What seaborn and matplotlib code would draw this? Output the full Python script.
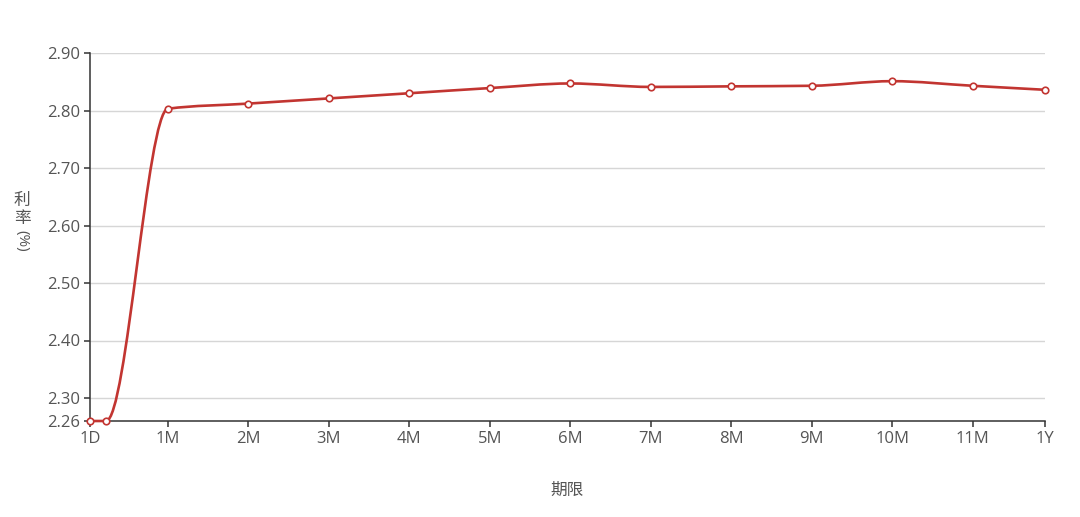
import numpy as np
import matplotlib
matplotlib.use('Agg')
import matplotlib.pyplot as plt
from matplotlib.path import Path
from matplotlib.patches import PathPatch
import pandas as pd
import seaborn as sns

# Data
tenors = ['1D', '1W', '1M', '2M', '3M', '4M', '5M', '6M', '7M', '8M', '9M', '10M', '11M', '1Y']
tenor_days = [1, 7, 30, 60, 90, 120, 150, 180, 210, 240, 270, 300, 330, 357]
rates = [2.26, 2.26, 2.803, 2.812, 2.821, 2.830, 2.839, 2.847, 2.841, 2.842, 2.843, 2.851, 2.843, 2.836]
y_ticks = [2.26, 2.30, 2.40, 2.50, 2.60, 2.70, 2.80, 2.90]
x_tick_labels = [t for t in tenors if t != '1W']
x_ticks = [d for t, d in zip(tenors, tenor_days) if t != '1W']

df = pd.DataFrame({'tenor': tenors, 'days': tenor_days, 'rate': rates})

line_color = '#c23531'
text_color = '#555555'
axis_color = '#333333'

sns.set_style('white')
plt.rcParams['font.family'] = ['Open Sans', 'Noto Sans CJK SC', 'DejaVu Sans']

fig = plt.figure(figsize=(10.8, 5.17), dpi=100)
ax = fig.add_axes([90 / 1080, 1 - 421 / 517, 955 / 1080, 368 / 517])
ax.set_xlim(tenor_days[0], tenor_days[-1])
ax.set_ylim(y_ticks[0], y_ticks[-1])


def monotone_path(xs, ys):
    # smooth monotone cubic through the points, drawn as bezier segments
    xs = np.asarray(xs, float)
    ys = np.asarray(ys, float)
    h = np.diff(xs)
    d = np.diff(ys) / h
    m = np.zeros_like(ys)
    for k in range(1, len(xs) - 1):
        if d[k - 1] * d[k] > 0:
            w1 = 2 * h[k] + h[k - 1]
            w2 = h[k] + 2 * h[k - 1]
            m[k] = (w1 + w2) / (w1 / d[k - 1] + w2 / d[k])
    # end slopes
    for k, (h0, h1, d0, d1) in [(0, (h[0], h[1], d[0], d[1])),
                                (-1, (h[-1], h[-2], d[-1], d[-2]))]:
        s = ((2 * h0 + h1) * d0 - h0 * d1) / (h0 + h1)
        if np.sign(s) != np.sign(d0):
            s = 0.0
        elif np.sign(d0) != np.sign(d1) and abs(s) > abs(3 * d0):
            s = 3 * d0
        m[k] = s
    verts = [(xs[0], ys[0])]
    codes = [Path.MOVETO]
    for k in range(len(xs) - 1):
        verts += [(xs[k] + h[k] / 3, ys[k] + m[k] * h[k] / 3),
                  (xs[k + 1] - h[k] / 3, ys[k + 1] - m[k + 1] * h[k] / 3),
                  (xs[k + 1], ys[k + 1])]
        codes += [Path.CURVE4] * 3
    return Path(verts, codes)


# grid lines
for t in y_ticks[1:]:
    ax.axhline(t, color='#d6d6d6', lw=1, zorder=0)

# smooth line
path = monotone_path(df['days'].values, df['rate'].values)
ax.add_patch(PathPatch(path, facecolor='none', edgecolor=line_color, lw=1.9,
                       zorder=3, clip_on=False, capstyle='round', joinstyle='round'))

# markers
sns.scatterplot(data=df, x='days', y='rate', ax=ax, s=22, color='white',
                edgecolor=line_color, linewidth=1.2, zorder=4, clip_on=False, legend=False)

# axes styling
for side in ['top', 'right']:
    ax.spines[side].set_visible(False)
for side in ['left', 'bottom']:
    ax.spines[side].set_color(axis_color)
    ax.spines[side].set_linewidth(1.1)

ax.set_yticks(y_ticks)
ax.set_yticklabels([f'{t:.2f}' for t in y_ticks])
ax.set_xticks(x_ticks)
ax.set_xticklabels(x_tick_labels)
ax.tick_params(axis='both', direction='out', length=4, width=1.1, color=axis_color,
               labelcolor=text_color, labelsize=12, pad=3, left=True, bottom=True)

ax.set_xlabel('')
ax.set_ylabel('')
fig.text(567 / 1080, 1 - 491 / 517, '期限', ha='center', va='center',
         fontsize=12, color=text_color)
fig.text(22 / 1080, 1 - 201 / 517, '利', ha='center', va='center',
         fontsize=12, color=text_color)
fig.text(22 / 1080, 1 - 219 / 517, '率', ha='center', va='center',
         fontsize=12, color=text_color)
fig.text(22 / 1080, 1 - 241 / 517, '(%)', ha='center', va='center',
         fontsize=11, color=text_color, rotation=-90)

fig.savefig('out.png', dpi=100, facecolor='white')
